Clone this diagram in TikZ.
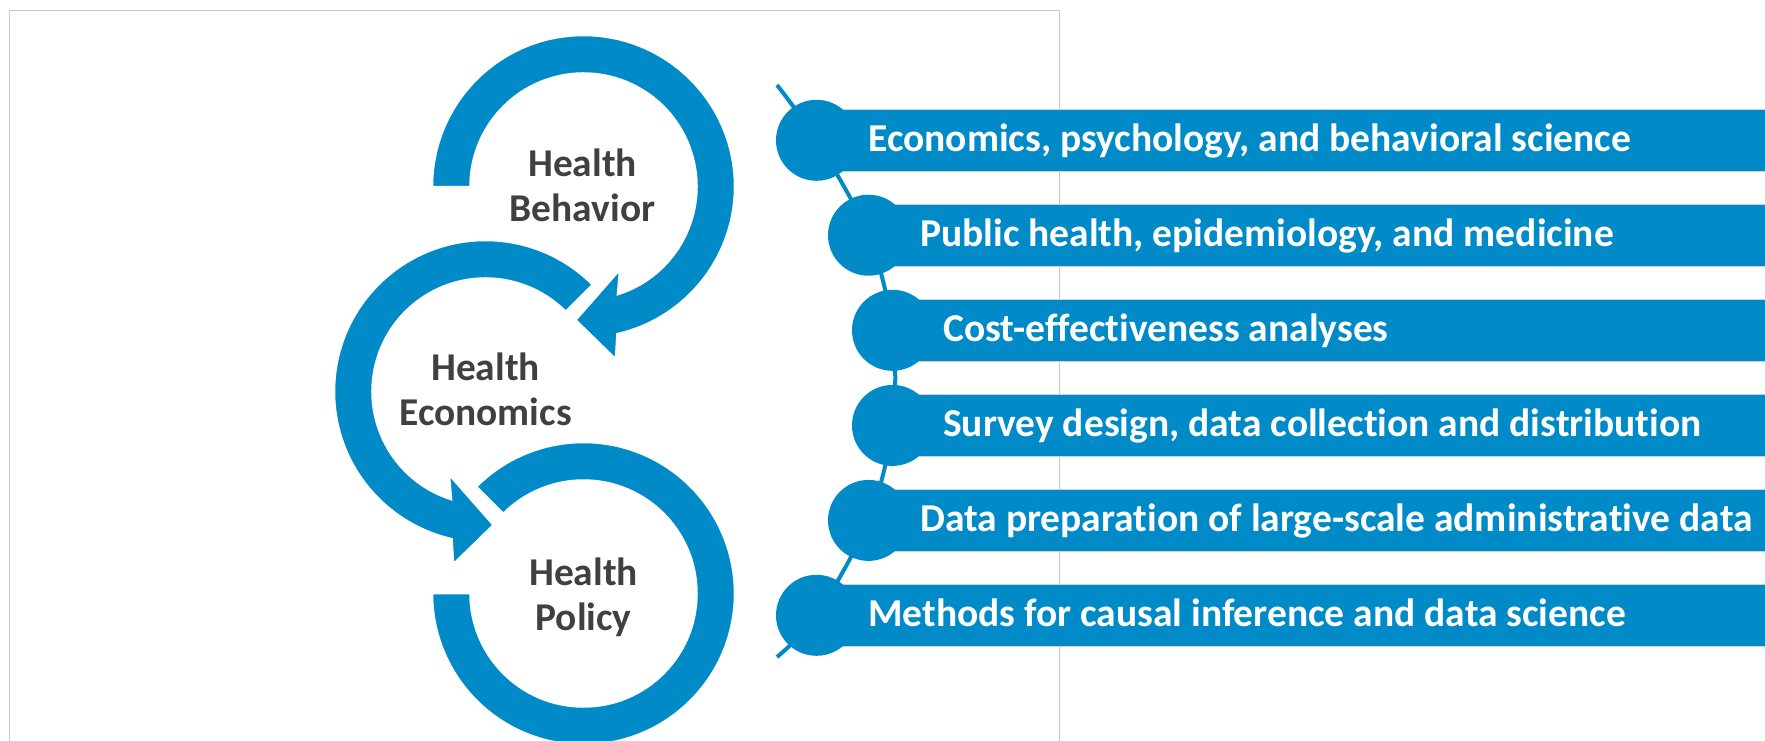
\documentclass[tikz,border=0pt]{standalone}
\usepackage{fontspec}
\setmainfont{Carlito}[Ligatures=NoCommon]
\definecolor{cblue}{RGB}{0,139,200}
\definecolor{ctext}{RGB}{64,64,64}
\definecolor{cframe}{RGB}{200,200,200}
\tikzset{
  ring/.style={fill=cblue, draw=white, line width=1.5pt},
  ringtext/.style={text=ctext, font=\fontsize{39.4}{45}\selectfont\bfseries, anchor=base, inner sep=0pt},
  bar/.style={fill=cblue, draw=black!18, line width=1pt},
  dot/.style={circle, fill=cblue, minimum size=81pt, inner sep=0pt},
  bartext/.style={text=white, font=\fontsize{39.5}{45}\selectfont\bfseries, anchor=base west, inner sep=0pt},
  conn/.style={draw=cblue, line width=4pt}
}
\begin{document}
\begin{tikzpicture}[x=1pt,y=1pt]
\useasboundingbox (0,0) rectangle (1765,-740);
% frame
\draw[cframe, line width=1pt] (9.5,-760) -- (9.5,-10.5) -- (1059.5,-10.5) -- (1059.5,-760);

% top ring with arrow
\begin{scope}[shift={(583.5,-186.5)}]
\path[ring] (180:151) arc[start angle=180, end angle=-77.2, radius=151]
  -- (32,-172) -- (-7.5,-133.5) -- (36,-84)
  -- (-72.6:113.5) arc[start angle=-72.6, end angle=180, radius=113.5] -- cycle;
\end{scope}
% middle ring with arrow
\begin{scope}[shift={(485.5,-391.5)}]
\path[ring] (45:151) arc[start angle=45, end angle=257.2, radius=151]
  -- (-32,-172) -- (7.5,-133.5) -- (-36,-84)
  -- (252.6:113.5) arc[start angle=252.6, end angle=45, radius=113.5] -- cycle;
\end{scope}
% bottom ring
\begin{scope}[shift={(583.5,-593.5)}]
\path[ring] (135:151) arc[start angle=135, end angle=-180, radius=151]
  -- (180:113.5) arc[start angle=-180, end angle=135, radius=113.5] -- cycle;
\end{scope}

\node[ringtext] (hb1) at (582.5,-176.7) {Health};
\node[ringtext] (hb2) at (582.5,-221.7) {Behavior};
\node[ringtext] (he1) at (485.5,-380) {Health};
\node[ringtext] (he2) at (485.5,-425) {Economics};
\node[ringtext] (hp1) at (583.5,-585.7) {Health};
\node[ringtext] (hp2) at (583.5,-630.5) {Policy};

% list connector
\coordinate (s) at (777,-85);
\coordinate (p1) at (816.5,-140.3);
\coordinate (p2) at (868.5,-235.2);
\coordinate (p3) at (892.5,-330.3);
\coordinate (p4) at (892.5,-425.4);
\coordinate (p5) at (868.5,-520.4);
\coordinate (p6) at (816.5,-615.3);
\coordinate (e) at (777,-657);
\draw[conn] plot[smooth, tension=0.55] coordinates {(s) (p1) (p2) (p3) (p4) (p5) (p6) (e)};

% bars
\path[bar] (816.5,-109.3) rectangle (1775,-171.3);
\path[bar] (868.5,-204.2) rectangle (1775,-266.2);
\path[bar] (892.5,-299.3) rectangle (1775,-361.3);
\path[bar] (892.5,-394.4) rectangle (1775,-456.4);
\path[bar] (868.5,-489.4) rectangle (1775,-551.4);
\path[bar] (816.5,-584.3) rectangle (1775,-646.3);

% dots
\node[dot] (d1) at (p1) {};
\node[dot] (d2) at (p2) {};
\node[dot] (d3) at (p3) {};
\node[dot] (d4) at (p4) {};
\node[dot] (d5) at (p5) {};
\node[dot] (d6) at (p6) {};

% bar texts
\node[bartext] (t1) at (868,-151.7) {Economics, psychology, and behavioral science};
\node[bartext] (t2) at (920,-246.7) {Public health, epidemiology, and medicine};
\node[bartext] (t3) at (943,-341.8) {Cost-effectiveness analyses};
\node[bartext] (t4) at (943,-436.9) {Survey design, data collection and distribution};
\node[bartext] (t5) at (920,-531.9) {Data preparation of large-scale administrative data};
\node[bartext] (t6) at (868,-626.8) {Methods for causal inference and data science};
\end{tikzpicture}
\end{document}
